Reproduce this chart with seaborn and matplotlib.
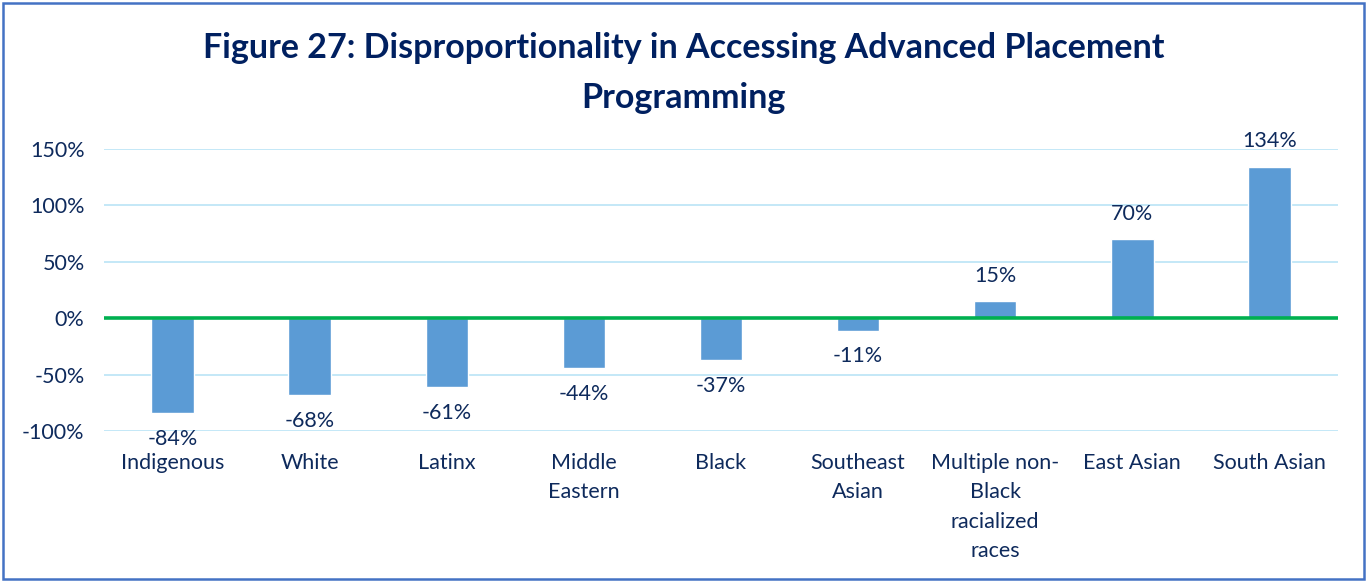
import matplotlib
matplotlib.use("Agg")
import matplotlib.pyplot as plt
from matplotlib.patches import Rectangle
import seaborn as sns
import pandas as pd

# Data
groups = ["Indigenous", "White", "Latinx", "Middle\nEastern", "Black",
          "Southeast\nAsian", "Multiple non-\nBlack\nracialized\nraces",
          "East Asian", "South Asian"]
values = [-84, -68, -61, -44, -37, -11, 15, 70, 134]
yticks = [-100, -50, 0, 50, 100, 150]
title = "Figure 27: Disproportionality in Accessing Advanced Placement\nProgramming"

df = pd.DataFrame({"group": groups, "value": values})

sns.set_theme(style="white")
plt.rcParams["font.family"] = ["Lato", "DejaVu Sans"]

NAVY = "#0E2A5C"
BAR = "#5B9BD5"
GRID = "#BFE6F7"
ZERO = "#00B050"
FS = 15.5

fig = plt.figure(figsize=(13.67, 5.81), dpi=100)
ax = fig.add_axes([0.0761, 0.2582, 0.9027, 0.4853])

sns.barplot(data=df, x="group", y="value", color=BAR, width=0.31,
            saturation=1, ax=ax, zorder=3)

ax.set_ylim(-100, 150)
ax.set_xlim(-0.5, len(groups) - 0.5)
ax.set_yticks(yticks)
ax.set_yticklabels([f"{t}%" for t in yticks])
for t in yticks:
    if t != 0:
        ax.axhline(t, color=GRID, lw=1.3, zorder=1)
ax.axhline(0, color=ZERO, lw=2.6, zorder=4)

for s in ax.spines.values():
    s.set_visible(False)
ax.tick_params(axis="both", length=0, colors=NAVY, labelsize=FS)
ax.tick_params(axis="y", pad=14)
ax.tick_params(axis="x", pad=16)
for lbl in ax.get_xticklabels():
    lbl.set_linespacing(1.58)
ax.set_xlabel("")
ax.set_ylabel("")

# Value labels at the outer end of each bar
for i, v in enumerate(values):
    off = 18.5 if v >= 0 else -18.5
    ax.annotate(f"{v}%", (i, v), xytext=(0, off), textcoords="offset points",
                ha="center", va="center", fontsize=FS, color=NAVY, zorder=5)

fig.text(0.5, 0.874, title, ha="center", va="center", fontsize=24.5,
         fontweight="bold", color="#002060", linespacing=1.7)

fig.patches.append(Rectangle((0.002, 0.004), 0.996, 0.99, transform=fig.transFigure,
                             fill=False, edgecolor="#4472C4", lw=1.8))

fig.savefig("out.png", dpi=100)
